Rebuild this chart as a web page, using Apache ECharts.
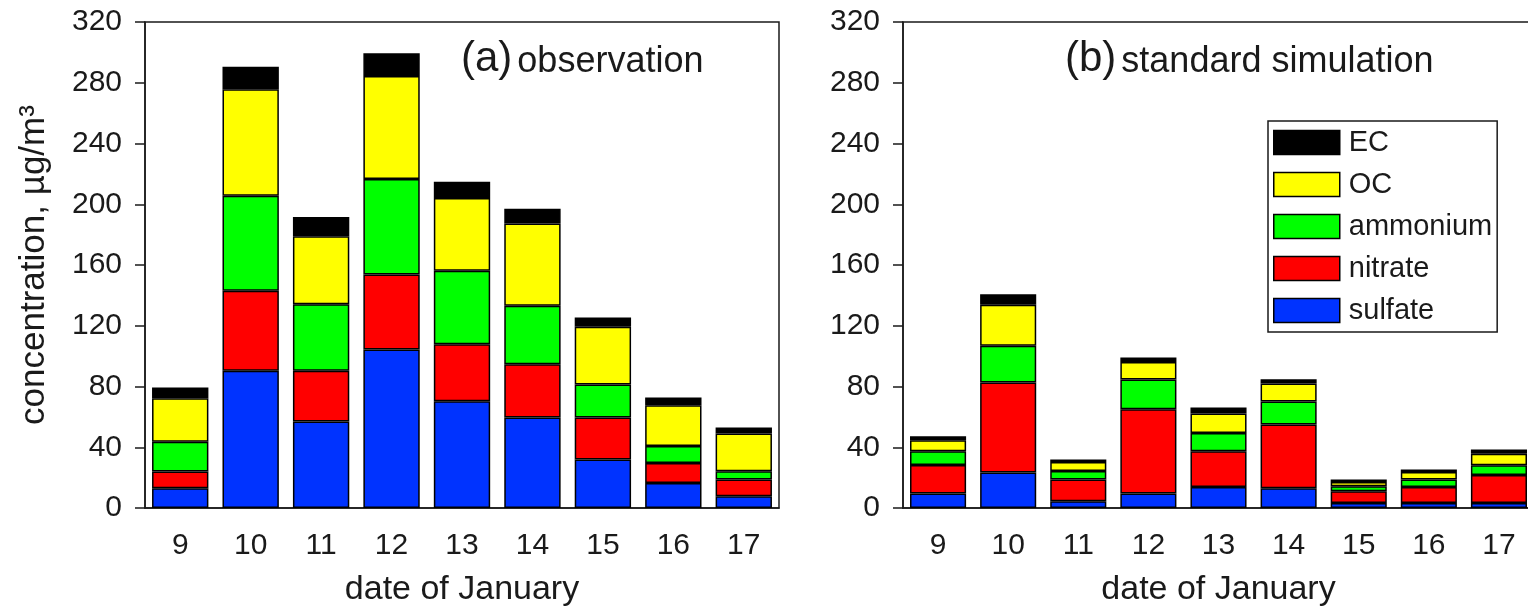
<!DOCTYPE html>
<html>
<head>
<meta charset="utf-8">
<script src="https://cdn.jsdelivr.net/npm/echarts@6/dist/echarts.min.js"></script>
<style>
  html, body { margin: 0; padding: 0; background: #fff; }
  #chart { width: 1528px; height: 608px; }
</style>
</head>
<body>
<div id="chart"></div>
<script>
// Dates (January) on the x axis
const dates = ['9', '10', '11', '12', '13', '14', '15', '16', '17'];
const yTicks = [0, 40, 80, 120, 160, 200, 240, 280, 320];

// (a) observed PM component concentrations, µg/m3
const obsSulfate  = [13.0, 90.3, 56.9, 104.4, 70.3, 59.6, 31.9, 16.5, 7.7];
const obsNitrate  = [11.0, 52.7, 33.4, 49.4, 37.6, 35.1, 27.7, 13.2, 11.0];
const obsAmmonium = [19.7, 62.6, 43.9, 62.8, 48.3, 38.4, 21.7, 11.2, 5.5];
const obsOC       = [28.6, 70.1, 44.8, 67.9, 47.9, 54.3, 38.0, 26.8, 24.8];
const obsEC       = [7.0, 14.9, 12.6, 14.9, 10.7, 9.6, 6.2, 5.1, 4.0];

// (b) standard simulation
const simSulfate  = [9.5, 23.3, 4.4, 9.5, 13.8, 13.0, 3.3, 3.3, 3.3];
const simNitrate  = [18.8, 59.3, 14.3, 55.5, 23.6, 41.9, 7.7, 10.5, 18.4];
const simAmmonium = [9.1, 24.2, 5.7, 19.6, 12.0, 15.2, 3.3, 4.9, 6.4];
const simOC       = [7.2, 27.0, 5.9, 11.6, 12.8, 11.9, 2.8, 5.0, 7.7];
const simEC       = [2.6, 7.0, 1.6, 2.9, 4.0, 2.8, 1.6, 1.6, 2.7];

const componentNames = ['sulfate', 'nitrate', 'ammonium', 'OC', 'EC'];
const componentColors = ['#0033ff', '#ff0000', '#00ff00', '#ffff00', '#000000'];

const FONT = '"Liberation Sans", Arial, Helvetica, sans-serif';
const INK = '#1a1a1a';

const obsSets = [obsSulfate, obsNitrate, obsAmmonium, obsOC, obsEC];
const simSets = [simSulfate, simNitrate, simAmmonium, simOC, simEC];

function stackSeries(sets, axisIndex, stackName) {
  return sets.map((vals, i) => ({
    name: componentNames[i],
    type: 'bar',
    stack: stackName,
    xAxisIndex: axisIndex,
    yAxisIndex: axisIndex,
    barCategoryGap: '20%',
    data: vals,
    itemStyle: { color: componentColors[i], borderColor: '#000', borderWidth: 1.5 },
    emphasis: { disabled: true },
    animation: false
  }));
}

function xAxisFor(gridIndex) {
  return {
    type: 'category',
    gridIndex: gridIndex,
    data: dates,
    name: 'date of January',
    nameLocation: 'middle',
    nameGap: 65,
    nameTextStyle: { fontFamily: FONT, fontSize: 34, color: INK },
    axisLine: { lineStyle: { color: INK, width: 1.5 } },
    axisTick: { alignWithLabel: true, length: 10, lineStyle: { color: INK, width: 1.5 } },
    axisLabel: { margin: 23, fontFamily: FONT, fontSize: 30, color: INK }
  };
}

function yAxisFor(gridIndex, withName) {
  const ax = {
    type: 'value',
    gridIndex: gridIndex,
    min: yTicks[0],
    max: yTicks[yTicks.length - 1],
    interval: yTicks[1] - yTicks[0],
    splitLine: { show: false },
    axisLine: { show: true, lineStyle: { color: INK, width: 1.5 } },
    axisTick: { show: true, length: 10, lineStyle: { color: INK, width: 1.5 } },
    axisLabel: { margin: 23, fontFamily: FONT, fontSize: 30, color: INK }
  };
  if (withName) {
    ax.name = 'concentration, µg/m³';
    ax.nameLocation = 'middle';
    ax.nameRotate = 90;
    ax.nameGap = 93;
    ax.nameTextStyle = { fontFamily: FONT, fontSize: 35, color: INK };
  }
  return ax;
}

function panelTitle(label, text, left) {
  return {
    text: '{p|' + label + '} {t|' + text + '}',
    left: left, top: 38, padding: 0,
    textStyle: {
      fontFamily: FONT, color: INK, fontWeight: 'normal',
      rich: {
        p: { fontFamily: FONT, fontSize: 42, fontWeight: 'normal', color: INK, verticalAlign: 'bottom' },
        t: { fontFamily: FONT, fontSize: 36, fontWeight: 'normal', color: INK, verticalAlign: 'bottom' }
      }
    }
  };
}

const chart = echarts.init(document.getElementById('chart'), null, { renderer: 'canvas' });

chart.setOption({
  backgroundColor: '#ffffff',
  animation: false,
  title: [
    panelTitle('(a)', 'observation', 461),
    panelTitle('(b)', 'standard simulation', 1065)
  ],
  legend: {
    data: ['EC', 'OC', 'ammonium', 'nitrate', 'sulfate'],
    orient: 'vertical',
    left: 1268, top: 121,
    padding: [7, 5, 7, 5],
    itemGap: 13,
    itemWidth: 66,
    itemHeight: 24,
    icon: 'rect',
    selectedMode: false,
    borderColor: INK,
    borderWidth: 1.5,
    backgroundColor: '#fff',
    itemStyle: { borderColor: '#000', borderWidth: 1.5 },
    textStyle: { fontFamily: FONT, fontSize: 29, color: INK, lineHeight: 24, padding: [0, 0, 0, 4] }
  },
  grid: [
    { left: 145, top: 22, width: 634, height: 486, outerBoundsMode: 'none', containLabel: false,
      show: true, borderColor: INK, borderWidth: 1.5, backgroundColor: 'transparent' },
    { left: 903, top: 22, width: 631, height: 486, outerBoundsMode: 'none', containLabel: false,
      show: true, borderColor: INK, borderWidth: 1.5, backgroundColor: 'transparent' }
  ],
  xAxis: [xAxisFor(0), xAxisFor(1)],
  yAxis: [yAxisFor(0, true), yAxisFor(1, false)],
  series: stackSeries(obsSets, 0, 'obs').concat(stackSeries(simSets, 1, 'sim'))
});
</script>
</body>
</html>
